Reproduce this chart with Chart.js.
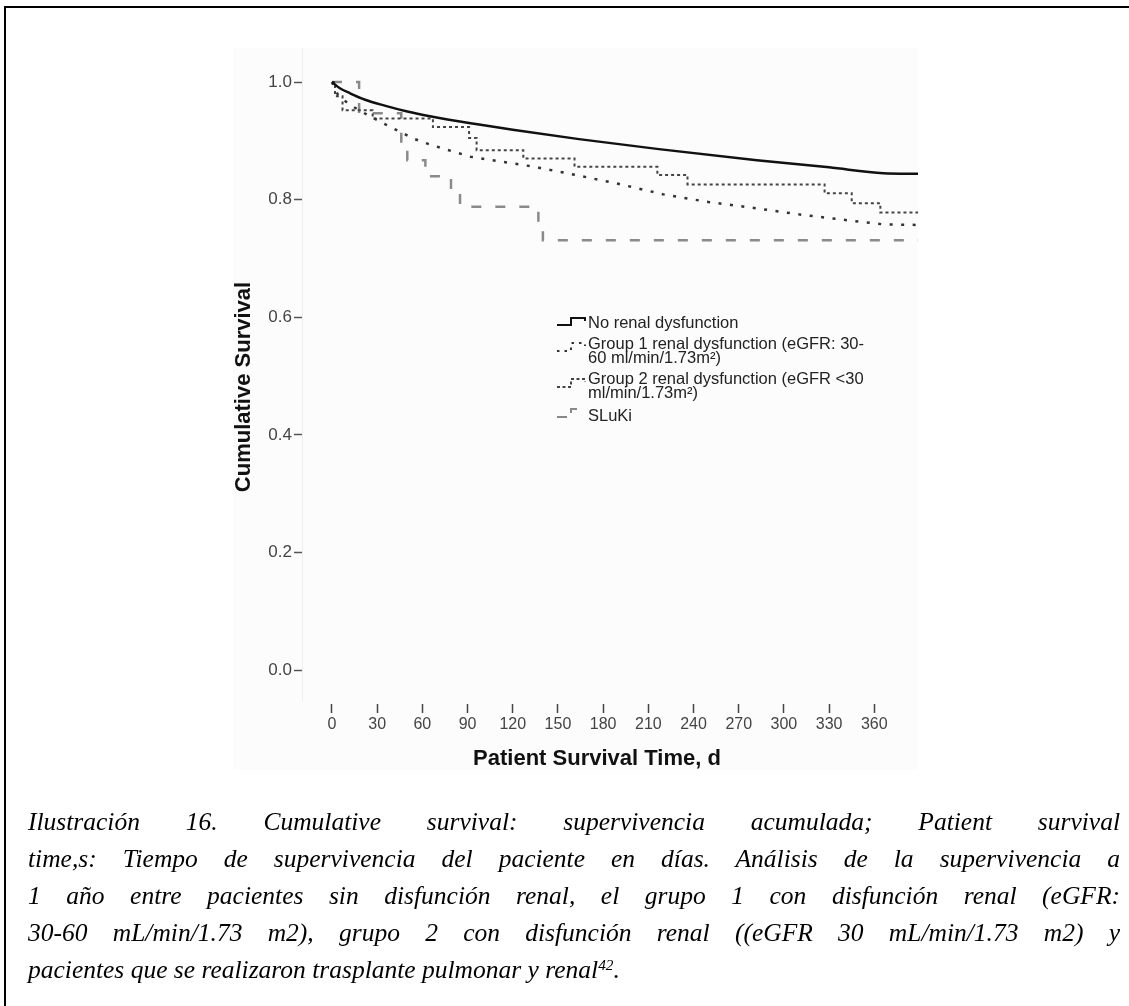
<!DOCTYPE html>
<html>
<head>
<meta charset="utf-8">
<script src="https://cdn.jsdelivr.net/npm/chart.js@4.4.1/dist/chart.umd.min.js"></script>
<style>
  html, body { margin: 0; padding: 0; background: #fff; }
  body { width: 1129px; height: 1006px; position: relative; overflow: hidden; font-family: "Liberation Sans", Arial, sans-serif; }
  #frame { position: absolute; left: 4px; top: 6px; right: -10px; bottom: -10px; border-top: 2px solid #000; border-left: 2px solid #000; }
  #chartBox { position: absolute; left: 0; top: 0; width: 1129px; height: 800px; }
  #legendSym { position: absolute; left: 0; top: 0; }
  .leg { position: absolute; left: 588px; font-size: 16.5px; line-height: 14px; color: #222; white-space: nowrap; }
  .axTitle { position: absolute; font-size: 22px; font-weight: bold; color: #111; white-space: nowrap; line-height: 26px; height: 26px; width: 300px; text-align: center; }
  #xTitle { left: 447px; top: 745px; }
  #yTitle { left: 93px; top: 374px; transform: rotate(-90deg); }
  #caption { position: absolute; left: 28px; width: 1092px; top: 803px; font-family: "Liberation Serif", "Times New Roman", serif; font-style: italic; font-size: 25.5px; line-height: 37px; color: #000; }
  #caption div { text-align: justify; text-align-last: justify; }
  #caption div.last { text-align-last: left; }
  #caption sup { font-size: 0.6em; line-height: 0; vertical-align: 0.55em; }
</style>
</head>
<body>
<div id="frame"></div>
<div id="chartBox"><canvas id="kmChart" width="1129" height="800"></canvas></div>

<!-- axis titles -->
<div class="axTitle" id="xTitle">Patient Survival Time, d</div>
<div class="axTitle" id="yTitle">Cumulative Survival</div>

<!-- legend symbols (little step glyphs like the SPSS output) -->
<svg id="legendSym" width="1129" height="800">
  <path d="M557,325 H571 V318 H585 V321" fill="none" stroke="#111" stroke-width="2"/>
  <path d="M557,351 H571 V343 H585 V346" fill="none" stroke="#333" stroke-width="2" stroke-dasharray="2.5 5"/>
  <path d="M557,387 H571 V379 H585 V382" fill="none" stroke="#444" stroke-width="2" stroke-dasharray="3 2.5"/>
  <path d="M557,417 H571 V409 H585" fill="none" stroke="#888" stroke-width="2" stroke-dasharray="10 8"/>
</svg>
<div class="leg" style="top:315px">No renal dysfunction</div>
<div class="leg" style="top:336px">Group 1 renal dysfunction (eGFR: 30-<br>60 ml/min/1.73m²)</div>
<div class="leg" style="top:371px">Group 2 renal dysfunction (eGFR &lt;30<br>ml/min/1.73m²)</div>
<div class="leg" style="top:408px">SLuKi</div>

<div id="caption">
  <div>Ilustración 16. Cumulative survival: supervivencia acumulada; Patient survival</div>
  <div>time,s: Tiempo de supervivencia del paciente en días. Análisis de la supervivencia a</div>
  <div>1 año entre pacientes sin disfunción renal, el grupo 1 con disfunción renal (eGFR:</div>
  <div>30-60 mL/min/1.73 m2), grupo 2 con disfunción renal ((eGFR 30 mL/min/1.73 m2) y</div>
  <div class="last">pacientes que se realizaron trasplante pulmonar y renal<sup>42</sup>.</div>
</div>

<script>
// ===== Data =====
const xTicks = [0, 30, 60, 90, 120, 150, 180, 210, 240, 270, 300, 330, 360];
const yTicks = [0, 0.2, 0.4, 0.6, 0.8, 1.0];

// No renal dysfunction (large group, curve looks smooth)
const noRenalDays = [0, 5, 12, 22, 35, 50, 65, 92, 120, 164, 217, 282, 330, 366, 389];
const noRenalSurv = [1.0, 0.990, 0.981, 0.970, 0.960, 0.950, 0.942, 0.930, 0.919, 0.903, 0.886, 0.867, 0.855, 0.845, 0.844];

// Group 1 renal dysfunction (eGFR 30-60)
const group1Days = [0, 4, 12, 23, 34, 44, 54, 66, 92, 134, 160, 190, 220, 250, 280, 310, 342, 366, 389];
const group1Surv = [1.0, 0.978, 0.961, 0.945, 0.930, 0.917, 0.904, 0.893, 0.873, 0.856, 0.843, 0.827, 0.809, 0.796, 0.786, 0.775, 0.765, 0.758, 0.757];

// Group 2 renal dysfunction (eGFR <30), step curve
const group2Days = [0, 2, 7, 27, 67, 91, 96, 127, 161, 216, 236, 327, 345, 364, 389];
const group2Surv = [1.0, 0.976, 0.952, 0.938, 0.9235, 0.905, 0.884, 0.870, 0.856, 0.842, 0.826, 0.811, 0.794, 0.778, 0.778];

// SLuKi, step curve
const slukiDays = [0, 18, 46, 50, 62, 79, 85, 137, 140, 389];
const slukiSurv = [1.0, 0.947, 0.895, 0.867, 0.840, 0.814, 0.788, 0.760, 0.731, 0.731];

const FONT = '"Liberation Sans", Arial, sans-serif';
const toPoints = (days, surv) => days.map((d, i) => ({ x: d, y: surv[i] }));

// faint SPSS-like background behind the plot
const bgPlugin = {
  id: 'bg',
  beforeDraw(chart) {
    const c = chart.ctx;
    c.save();
    c.fillStyle = '#fcfcfc';
    c.fillRect(233, 48, 918 - 233, 770 - 48);
    c.restore();
  }
};

const ctx = document.getElementById('kmChart').getContext('2d');
new Chart(ctx, {
  type: 'line',
  data: {
    datasets: [
      {
        label: 'No renal dysfunction',
        data: toPoints(noRenalDays, noRenalSurv),
        borderColor: '#111',
        borderWidth: 2.5,
        pointRadius: 0,
        cubicInterpolationMode: 'monotone',
        fill: false
      },
      {
        label: 'Group 1 renal dysfunction (eGFR: 30-60 ml/min/1.73m²)',
        data: toPoints(group1Days, group1Surv),
        borderColor: '#333',
        borderWidth: 2.5,
        borderDash: [3, 8.5],
        pointRadius: 0,
        tension: 0,
        fill: false
      },
      {
        label: 'Group 2 renal dysfunction (eGFR <30 ml/min/1.73m²)',
        data: toPoints(group2Days, group2Surv),
        borderColor: '#444',
        borderWidth: 2,
        borderDash: [3, 3],
        pointRadius: 0,
        stepped: 'before',
        fill: false
      },
      {
        label: 'SLuKi',
        data: toPoints(slukiDays, slukiSurv),
        borderColor: '#8a8a8a',
        borderWidth: 2.5,
        borderDash: [10, 14],
        pointRadius: 0,
        stepped: 'before',
        fill: false
      }
    ]
  },
  options: {
    responsive: false,
    animation: false,
    layout: { autoPadding: false, padding: { left: 230, top: 48, right: 211, bottom: 25 } },
    plugins: { legend: { display: false }, tooltip: { enabled: false } },
    scales: {
      x: {
        type: 'linear',
        min: -19.9,
        max: 389,
        afterBuildTicks: a => { a.ticks = xTicks.map(v => ({ value: v })); },
        afterFit: a => { a.height = 75; },
        grid: { drawOnChartArea: false, tickLength: 13, tickColor: '#444', tickWidth: 1.5, tickBorderDash: [0, 4, 9, 20] },
        border: { display: false },
        ticks: { font: { family: FONT, size: 16 }, color: '#444', padding: 2, maxRotation: 0, autoSkip: false },
        title: { display: false }
      },
      y: {
        type: 'linear',
        min: -0.051,
        max: 1.058,
        afterBuildTicks: a => { a.ticks = yTicks.map(v => ({ value: v })); },
        afterFit: a => { a.width = 72; },
        grid: { drawOnChartArea: false, tickLength: 8, tickColor: '#555', tickWidth: 1.5 },
        border: { display: true, color: '#eeeeee', width: 1 },
        ticks: { font: { family: FONT, size: 17 }, color: '#444', padding: 2, callback: v => Number(v).toFixed(1) },
        title: { display: false }
      }
    }
  },
  plugins: [bgPlugin]
});
</script>
</body>
</html>
